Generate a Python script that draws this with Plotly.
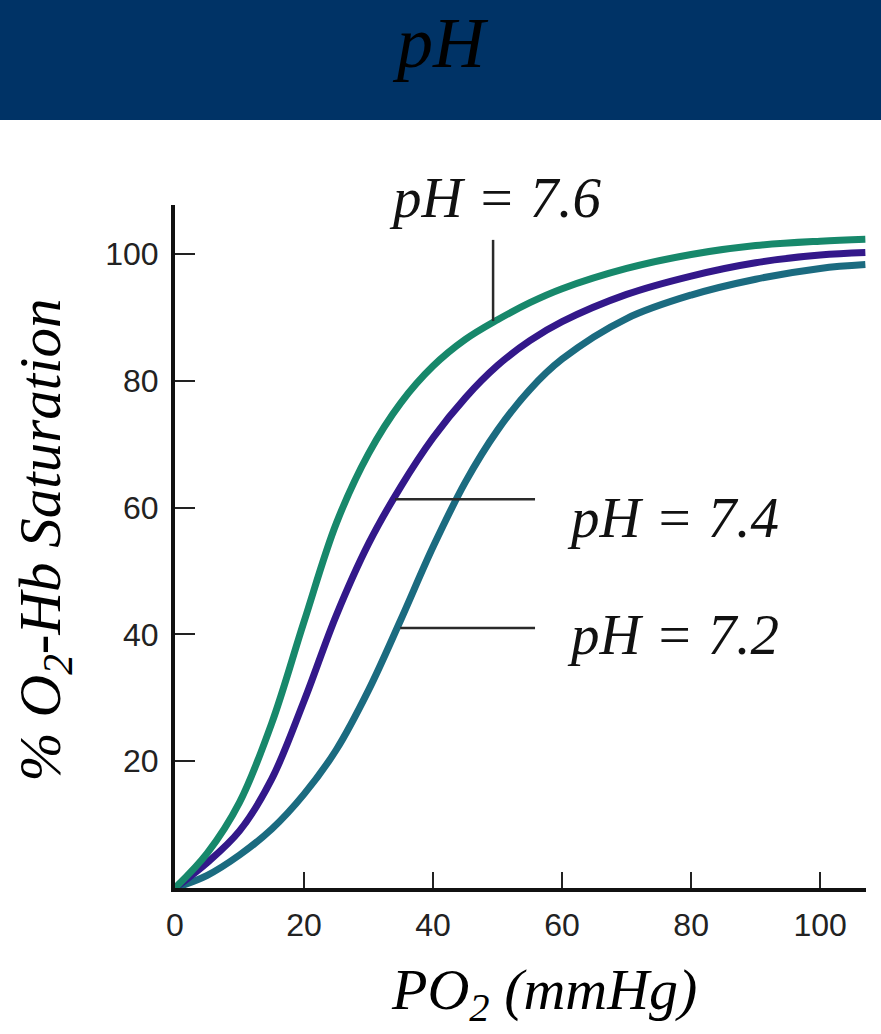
import plotly.graph_objects as go

# Oxygen–haemoglobin dissociation curves at three blood pH values
po2 = [0, 5, 10, 15, 20, 25, 30, 35, 40, 45, 50, 55, 60, 70, 80, 90, 100, 107]
sat_76 = [0, 5.5, 13.5, 26.0, 42.0, 57.5, 68.5, 76.5, 82.3, 86.5, 89.6, 92.3, 94.5, 97.7, 99.9, 101.3, 102.0, 102.3]
sat_74 = [0, 4.0, 9.0, 17.2, 29.5, 43.0, 54.3, 63.3, 71.0, 77.3, 82.4, 86.3, 89.3, 93.6, 96.5, 98.6, 99.8, 100.2]
sat_72 = [0, 2.0, 5.2, 9.3, 14.8, 21.8, 31.2, 42.3, 53.8, 64.0, 72.2, 78.6, 83.4, 89.8, 93.5, 96.0, 97.7, 98.3]

ph_labels = ["pH = 7.6", "pH = 7.4", "pH = 7.2"]
x_ticks = [0, 20, 40, 60, 80, 100]
y_ticks = [20, 40, 60, 80, 100]

# Callout leader lines (x list, y list) and label anchors
leader_76 = ([49.3, 49.3], [89.4, 102.2])
leader_74 = ([34.1, 55.8], [61.3, 61.3])
leader_72 = ([34.9, 55.8], [41.0, 41.0])
label_74 = (77.2, 58.4)
label_72 = (77.2, 39.9)

colors = ["#17886b", "#33188a", "#1b6b80"]

SERIF = "Liberation Serif, Times New Roman, serif"
SANS = "Liberation Sans, Arial, Helvetica, sans-serif"

fig = go.Figure()

for ys, c, name in [(sat_72, colors[2], ph_labels[2]),
                    (sat_74, colors[1], ph_labels[1]),
                    (sat_76, colors[0], ph_labels[0])]:
    fig.add_trace(go.Scatter(
        x=po2, y=ys, mode="lines", name=name,
        line=dict(color=c, width=7, shape="spline", smoothing=1.0),
        cliponaxis=False, showlegend=False, hoverinfo="skip",
    ))

for lx, ly in [leader_76, leader_74, leader_72]:
    fig.add_trace(go.Scatter(
        x=lx, y=ly, mode="lines",
        line=dict(color="#2a2a2a", width=2.5),
        showlegend=False, hoverinfo="skip", cliponaxis=False,
    ))

label_font = dict(family=SERIF, size=57, color="#111111", style="italic")

# top label sits above the plotting area, so it is placed in paper units
fig.add_annotation(
    xref="paper", yref="paper", x=0.463, y=1.0117, text=ph_labels[0],
    showarrow=False, xanchor="center", yanchor="middle", font=label_font,
)
for text, (ax, ay) in zip(ph_labels[1:], [label_74, label_72]):
    fig.add_annotation(
        x=ax, y=ay, xref="x", yref="y", text=text, showarrow=False,
        font=label_font, xanchor="center", yanchor="middle",
    )

# Header band
fig.add_shape(type="rect", xref="paper", yref="paper",
              x0=-0.3, x1=1.1, y0=1.1245, y1=1.4,
              fillcolor="#003366", line=dict(width=0), layer="below")

fig.add_annotation(
    xref="paper", yref="paper", x=0.3842, y=1.2375,
    text="pH", showarrow=False, xanchor="center", yanchor="middle",
    font=dict(family=SERIF, size=72, color="#000000", style="italic"),
)

# Axis titles
fig.add_annotation(
    xref="paper", yref="paper", x=0.534, y=-0.2108,
    text="PO<sub>2</sub> (mmHg)", showarrow=False,
    xanchor="center", yanchor="bottom",
    font=dict(family=SERIF, size=58, color="#000000", style="italic"),
)
fig.add_annotation(
    xref="paper", yref="paper", x=-0.19, y=0.51,
    text="% O<sub>2</sub>-Hb Saturation", showarrow=False, textangle=-90,
    xanchor="center", yanchor="middle",
    font=dict(family=SERIF, size=59, color="#000000", style="italic"),
)

fig.update_layout(
    width=881, height=1034,
    margin=dict(l=175, r=15, t=205, b=146),
    paper_bgcolor="white", plot_bgcolor="white",
    showlegend=False,
)

fig.update_xaxes(
    range=[0, 107.1], tickvals=x_ticks, ticktext=[str(v) for v in x_ticks],
    showgrid=False, zeroline=False,
    showline=True, linecolor="#111111", linewidth=4,
    ticks="inside", ticklen=16, tickwidth=2, tickcolor="#222222",
    tickfont=dict(family=SANS, size=32, color="#222222"),
    ticklabelstandoff=6, automargin=False,
)
fig.update_yaxes(
    range=[0, 107.7], tickvals=y_ticks, ticktext=[str(v) for v in y_ticks],
    showgrid=False, zeroline=False,
    showline=True, linecolor="#111111", linewidth=4,
    ticks="inside", ticklen=20, tickwidth=2, tickcolor="#222222",
    tickfont=dict(family=SANS, size=32, color="#222222"),
    ticklabelstandoff=6, automargin=False,
)

fig.write_html("out.html")
